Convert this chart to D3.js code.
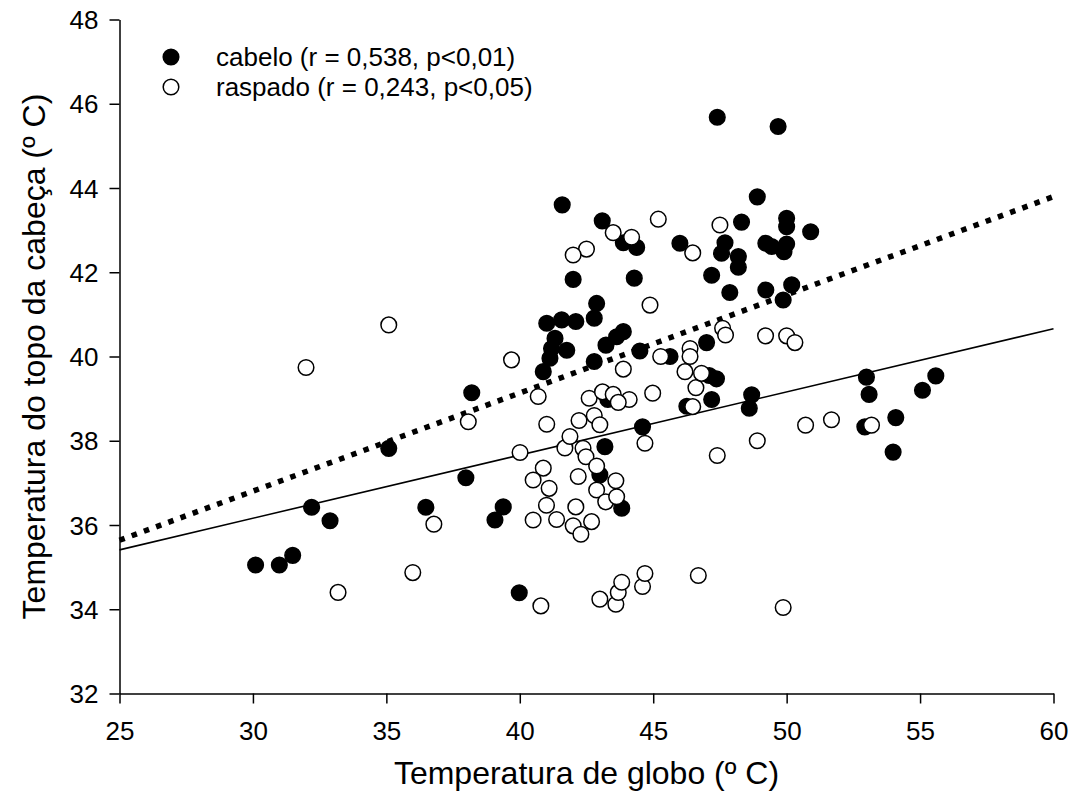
<!DOCTYPE html>
<html>
<head>
<meta charset="utf-8">
<script src="https://cdn.jsdelivr.net/npm/d3@7"></script>
<style>
  html, body { margin: 0; padding: 0; background: #fff; }
  svg { display: block; font-family: "Liberation Sans", Arial, sans-serif; }
</style>
</head>
<body>
<svg id="chart" width="1075" height="808"></svg>
<script>
// Globe temperature (x) vs. head-top temperature (y), two coat groups
const cabeloX = [30.10, 30.99, 31.49, 32.20, 32.89, 35.09, 38.20, 37.98, 36.48, 39.07,
  39.38, 39.98, 41.59, 43.09, 43.88, 44.38, 42.00, 44.29, 42.88, 42.79,
  41.01, 41.57, 42.10, 41.32, 41.19, 41.76, 41.13, 40.88, 43.88, 43.63,
  43.23, 42.79, 44.50, 45.63, 44.60, 43.19, 43.00, 43.82, 43.30, 47.40,
  49.68, 48.90, 48.31, 50.00, 50.00, 50.90, 46.00, 47.69, 47.56, 48.19,
  48.19, 49.22, 49.44, 50.00, 49.90, 47.19, 47.87, 49.22, 50.19, 49.87,
  47.00, 47.10, 47.37, 47.19, 48.69, 48.60, 46.26, 52.99, 53.09, 55.59,
  55.09, 54.09, 52.93, 53.99];
const cabeloY = [35.05, 35.05, 35.28, 36.42, 36.10, 37.82, 39.14, 37.12, 36.42, 36.12,
  36.43, 34.39, 43.60, 43.22, 42.70, 42.59, 41.83, 41.86, 41.26, 40.91,
  40.79, 40.87, 40.83, 40.43, 40.19, 40.15, 39.96, 39.64, 40.59, 40.47,
  40.27, 39.88, 40.13, 40.00, 38.33, 37.86, 37.19, 36.40, 38.98, 45.68,
  45.46, 43.79, 43.19, 43.28, 43.08, 42.96, 42.69, 42.70, 42.45, 42.37,
  42.12, 42.69, 42.61, 42.67, 42.49, 41.93, 41.52, 41.58, 41.70, 41.34,
  40.33, 39.55, 39.47, 38.98, 39.09, 38.77, 38.82, 39.51, 39.10, 39.54,
  39.20, 38.55, 38.33, 37.73];

const raspadoX = [35.09, 31.99, 38.07, 36.78, 35.99, 33.19, 44.88, 39.69, 43.88, 45.28,
  46.38, 46.38, 46.19, 46.60, 46.48, 40.69, 42.60, 43.10, 43.50, 44.10,
  43.69, 44.98, 41.01, 42.22, 42.79, 43.00, 45.19, 43.50, 44.19, 42.50,
  42.00, 47.50, 46.48, 47.60, 47.71, 49.21, 50.00, 50.31, 46.81, 53.18,
  51.68, 50.71, 48.90, 47.40, 40.01, 41.69, 41.88, 44.69, 42.37, 42.48,
  42.88, 42.19, 40.88, 40.50, 41.10, 41.00, 40.50, 41.38, 42.10, 42.00,
  42.29, 42.69, 42.88, 43.22, 43.60, 43.63, 40.79, 43.00, 43.60, 43.69,
  43.82, 44.60, 44.69, 46.69, 49.87];
const raspadoY = [40.75, 39.74, 38.45, 36.02, 34.87, 34.40, 41.22, 39.92, 39.70, 40.00,
  40.19, 40.00, 39.64, 39.26, 38.81, 39.05, 39.01, 39.16, 39.10, 38.98,
  38.91, 39.13, 38.39, 38.48, 38.60, 38.38, 43.26, 42.94, 42.83, 42.55,
  42.41, 43.12, 42.46, 40.67, 40.51, 40.49, 40.49, 40.33, 39.60, 38.37,
  38.50, 38.37, 38.00, 37.65, 37.72, 37.83, 38.10, 37.94, 37.82, 37.62,
  37.40, 37.15, 37.35, 37.07, 36.87, 36.47, 36.12, 36.13, 36.43, 35.98,
  35.78, 36.08, 36.83, 36.55, 37.05, 36.67, 34.08, 34.24, 34.12, 34.40,
  34.64, 34.54, 34.85, 34.80, 34.04];

// Linear fits: [intercept, slope]
const fitCabelo = [29.81, 0.2331];
const fitRaspado = [31.66, 0.150];

const xTicks = [25, 30, 35, 40, 45, 50, 55, 60];
const yTicks = [32, 34, 36, 38, 40, 42, 44, 46, 48];
const legendLabels = ["cabelo (r = 0,538, p<0,01)", "raspado (r = 0,243, p<0,05)"];
const xTitle = "Temperatura de globo (º C)";
const yTitle = "Temperatura do topo da cabeça (º C)";

const margin = { left: 119.5, right: 21.5, top: 19.5, bottom: 114.5 };
const W = 1075, H = 808;

const svg = d3.select("#chart");
const x = d3.scaleLinear().domain([25, 60]).range([margin.left, W - margin.right]);
const y = d3.scaleLinear().domain([32, 48]).range([H - margin.bottom, margin.top]);

// Axes
const xAxis = svg.append("g")
  .attr("transform", `translate(0,${y(32)})`)
  .call(d3.axisBottom(x).tickValues(xTicks).tickSize(10).tickSizeOuter(0).tickPadding(18).tickFormat(d3.format("d")));
const yAxis = svg.append("g")
  .attr("transform", `translate(${x(25)},0)`)
  .call(d3.axisLeft(y).tickValues(yTicks).tickSize(10).tickSizeOuter(0).tickPadding(11).tickFormat(d3.format("d")));
[xAxis, yAxis].forEach(g => {
  g.select(".domain").attr("stroke", "#000").attr("stroke-width", 1.5);
  g.selectAll(".tick line").attr("stroke", "#000").attr("stroke-width", 1.5);
  g.selectAll(".tick text").attr("fill", "#000")
    .style("font-family", '"Liberation Sans", Arial, sans-serif').style("font-size", "26px");
});
yAxis.selectAll(".tick text").attr("dy", "0.35em");

// Fit lines
const lineGen = d3.line().x(d => x(d[0])).y(d => y(d[1]));
const fitPts = f => [25, 60].map(v => [v, f[0] + f[1] * v]);
svg.append("path").datum(fitPts(fitRaspado))
  .attr("d", lineGen).attr("fill", "none").attr("stroke", "#000").attr("stroke-width", 1.6);
svg.append("path").datum(fitPts(fitCabelo))
  .attr("d", lineGen).attr("fill", "none").attr("stroke", "#000").attr("stroke-width", 5.5)
  .attr("stroke-dasharray", "5.5 7.5");

// Points
const R = 7.8;
const cabelo = cabeloX.map((v, i) => [v, cabeloY[i]]);
const raspado = raspadoX.map((v, i) => [v, raspadoY[i]]);
svg.append("g").selectAll("circle").data(cabelo).join("circle")
  .attr("cx", d => x(d[0])).attr("cy", d => y(d[1])).attr("r", R)
  .attr("fill", "#000").attr("stroke", "#000").attr("stroke-width", 1.5);
svg.append("g").selectAll("circle").data(raspado).join("circle")
  .attr("cx", d => x(d[0])).attr("cy", d => y(d[1])).attr("r", R)
  .attr("fill", "#fff").attr("stroke", "#000").attr("stroke-width", 1.5);

// Legend
const legend = svg.append("g");
legendLabels.forEach((t, i) => {
  const cy = 57 + i * 30;
  legend.append("circle").attr("cx", 171).attr("cy", cy).attr("r", R)
    .attr("fill", i === 0 ? "#000" : "#fff").attr("stroke", "#000").attr("stroke-width", 1.5);
  legend.append("text").attr("x", 216).attr("y", cy).attr("dy", "0.35em")
    .style("font-size", "26px").attr("fill", "#000").text(t);
});

// Axis titles
svg.append("text").attr("x", (x(25) + x(60)) / 2).attr("y", 784)
  .attr("text-anchor", "middle").style("font-size", "32px").text(xTitle);
svg.append("text")
  .attr("transform", `translate(45,${(y(32) + y(48)) / 2}) rotate(-90)`)
  .attr("text-anchor", "middle").style("font-size", "32px").text(yTitle);
</script>
</body>
</html>
